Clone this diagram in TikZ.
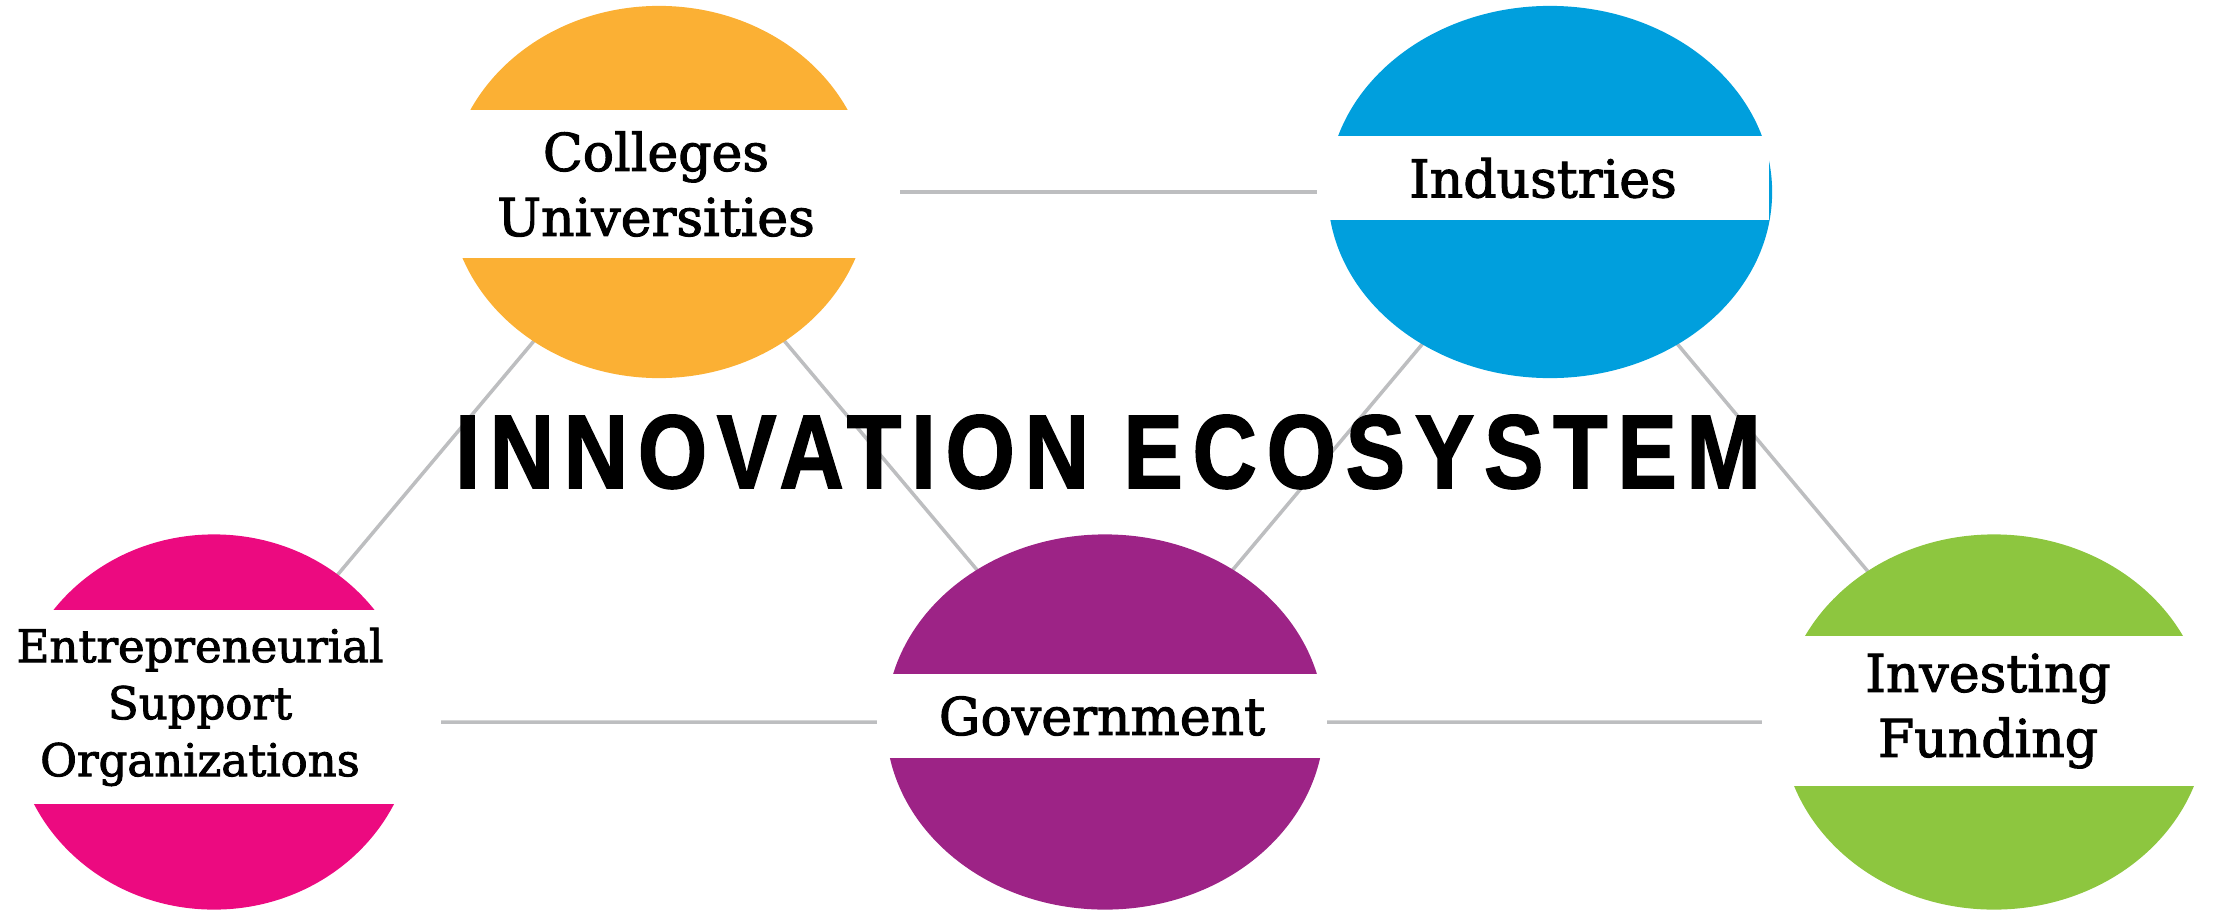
\documentclass[tikz,border=0pt]{standalone}
\usepackage{fontspec}
\setmainfont{DejaVu Serif}[FakeBold=2]
\newfontfamily\titlefont{Liberation Sans}[FakeStretch=0.85,LetterSpace=9.3,FakeBold=1.5]
\usetikzlibrary{shapes.geometric,backgrounds}
\definecolor{uorange}{HTML}{FBB034}
\definecolor{ublue}{HTML}{009FDD}
\definecolor{upink}{HTML}{EC0A80}
\definecolor{upurple}{HTML}{9D2386}
\definecolor{ugreen}{HTML}{8DC63F}
\definecolor{linkgray}{HTML}{BDBEC0}

\begin{document}
\begin{tikzpicture}[x=0.01cm, y=-0.01cm,
    blob/.style={ellipse, fill=#1, inner sep=0},
    band/.style={fill=white, inner sep=0, align=center,
      font=\fontsize{14.8}{18.5}\selectfont},
    link/.style={draw=linkgray, line width=1pt}]
  \useasboundingbox (0,0) rectangle (2216,909);

  \node[blob=uorange, minimum width=4.20cm, minimum height=3.72cm]
    (col) at (659, 192) {};
  \node[blob=ublue, minimum width=4.44cm, minimum height=3.72cm]
    (ind) at (1550, 192) {};
  \node[blob=upink, minimum width=4.00cm, minimum height=3.75cm]
    (ent) at (214, 722) {};
  \node[blob=upurple, minimum width=4.38cm, minimum height=3.75cm]
    (gov) at (1105, 722) {};
  \node[blob=ugreen, minimum width=4.25cm, minimum height=3.75cm]
    (inv) at (1994, 722) {};

  \node[band, minimum width=4.88cm, minimum height=1.48cm]
    (colband) at (656, 184) {Colleges\\Universities};
  \node[band, minimum width=4.52cm, minimum height=0.84cm]
    (indband) at (1543, 178) {Industries};
  \node[band, minimum width=4.82cm, minimum height=1.93cm,
    font=\fontsize{12.8}{16.2}\selectfont]
    (entband) at (200, 707) {Entrepreneurial\\Support\\Organizations};
  \node[band, minimum width=4.49cm, minimum height=0.83cm]
    (govband) at (1102, 716) {Government};
  \node[band, minimum width=4.52cm, minimum height=1.50cm]
    (invband) at (1988, 711) {Investing\\Funding};

  \begin{scope}[on background layer]
    \draw[link]
      (col.center) -- (ind.center)
      (ent.center) -- (gov.center)
      (gov.center) -- (inv.center)
      (col.center) -- (ent.center)
      (col.center) -- (gov.center)
      (ind.center) -- (gov.center)
      (ind.center) -- (inv.center);
  \end{scope}

  \node[anchor=base, inner sep=0,
    font=\titlefont\bfseries\fontsize{29.8}{30}\selectfont]
    (title) at (1108, 488) {INNOVATION ECOSYSTEM};
\end{tikzpicture}
\end{document}
